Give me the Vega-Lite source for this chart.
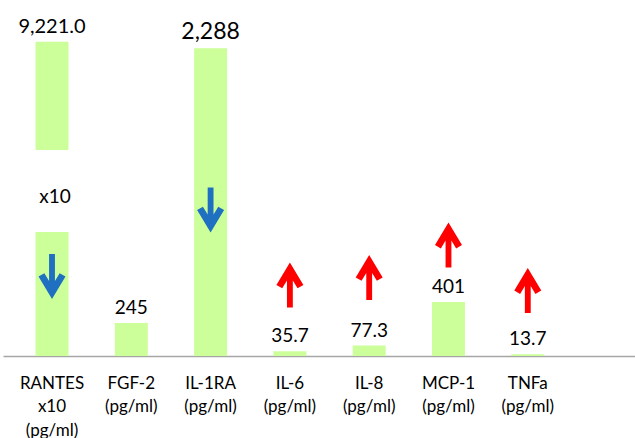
{
  "$schema": "https://vega.github.io/schema/vega-lite/v6.json",
  "width": 632,
  "height": 356,
  "autosize": {"type": "none"},
  "padding": {"left": 3, "top": 0, "right": 0, "bottom": 82},
  "background": "white",
  "config": {"view": {"stroke": null}, "font": "Lato"},
  "datasets": {
    "bars": [
      {"cat": "RANTES", "start": 0, "end": 922.1},
      {"cat": "RANTES", "start": 1532, "end": 2337},
      {"cat": "FGF-2", "start": 0, "end": 245},
      {"cat": "IL-1RA", "start": 0, "end": 2288},
      {"cat": "IL-6", "start": 0, "end": 35.7},
      {"cat": "IL-8", "start": 0, "end": 77.3},
      {"cat": "MCP-1", "start": 0, "end": 401},
      {"cat": "TNFa", "start": 0, "end": 13.7}
    ],
    "labels": [
      {"cat": "RANTES", "v": 2337, "text": "9,221.0"},
      {"cat": "FGF-2", "v": 245, "text": "245"},
      {"cat": "IL-1RA", "v": 2288, "text": "2,288"},
      {"cat": "IL-6", "v": 35.7, "text": "35.7"},
      {"cat": "IL-8", "v": 77.3, "text": "77.3"},
      {"cat": "MCP-1", "v": 401, "text": "401"},
      {"cat": "TNFa", "v": 13.7, "text": "13.7"}
    ],
    "notes": [
      {"cat": "RANTES", "v": 1182, "text": "x10"}
    ],
    "arrows": [
      {"cat": "RANTES", "v": 591, "dir": "down"},
      {"cat": "IL-1RA", "v": 1085, "dir": "down"},
      {"cat": "IL-6", "v": 528, "dir": "up"},
      {"cat": "IL-8", "v": 584, "dir": "up"},
      {"cat": "MCP-1", "v": 825, "dir": "up"},
      {"cat": "TNFa", "v": 487, "dir": "up"}
    ]
  },
  "encoding": {
    "x": {
      "field": "cat",
      "type": "nominal",
      "sort": null,
      "scale": {
        "domain": ["RANTES", "FGF-2", "IL-1RA", "IL-6", "IL-8", "MCP-1", "TNFa", "_"],
        "paddingInner": 0.584,
        "paddingOuter": 0.277,
        "align": 0.74
      },
      "axis": {
        "title": null,
        "labelAngle": 0,
        "ticks": false,
        "domain": true,
        "domainColor": "#a6a6a6",
        "domainWidth": 1.5,
        "labelFont": "Lato",
        "labelFontSize": 17,
        "labelColor": "#000000",
        "labelLineHeight": 23.5,
        "labelPadding": 19,
        "labelLimit": 0,
        "labelOverlap": false,
        "labelExpr": "datum.value == 'RANTES' ? ['RANTES', 'x10', '(pg/ml)'] : (datum.value == '_' ? '' : [datum.value, '(pg/ml)'])"
      }
    }
  },
  "layer": [
    {
      "data": {"name": "bars"},
      "mark": {"type": "bar", "color": "#ccff99"},
      "encoding": {
        "y": {"field": "start", "type": "quantitative", "scale": {"domain": [0, 2647], "nice": false, "zero": true}, "axis": null},
        "y2": {"field": "end"}
      }
    },
    {
      "data": {"name": "labels"},
      "transform": [{"filter": "datum.cat !== 'IL-1RA' && datum.cat !== 'RANTES'"}],
      "mark": {"type": "text", "fontSize": 19, "baseline": "alphabetic", "dy": -9, "color": "#000000", "font": "Lato"},
      "encoding": {
        "y": {"field": "v", "type": "quantitative"},
        "text": {"field": "text"}
      }
    },
    {
      "data": {"name": "labels"},
      "transform": [{"filter": "datum.cat === 'IL-1RA'"}],
      "mark": {"type": "text", "fontSize": 23, "baseline": "alphabetic", "dy": -9, "color": "#000000", "font": "Lato"},
      "encoding": {
        "y": {"field": "v", "type": "quantitative"},
        "text": {"field": "text"}
      }
    },
    {
      "data": {"name": "labels"},
      "transform": [{"filter": "datum.cat === 'RANTES'"}],
      "mark": {"type": "text", "fontSize": 20, "baseline": "alphabetic", "dy": -9, "color": "#000000", "font": "Lato"},
      "encoding": {
        "y": {"field": "v", "type": "quantitative"},
        "text": {"field": "text"}
      }
    },
    {
      "data": {"name": "notes"},
      "mark": {"type": "text", "fontSize": 19, "baseline": "middle", "dx": 3, "color": "#000000", "font": "Lato"},
      "encoding": {
        "y": {"field": "v", "type": "quantitative"},
        "text": {"field": "text"}
      }
    },
    {
      "data": {"name": "arrows"},
      "mark": {"type": "point", "filled": true, "opacity": 1, "size": 2025, "strokeWidth": 0},
      "encoding": {
        "y": {"field": "v", "type": "quantitative"},
        "shape": {
          "field": "dir",
          "type": "nominal",
          "scale": {
            "domain": ["up", "down"],
            "range": [
              "M0,-1L0.6,0L0.34,0.15L0.13,-0.2L0.13,1L-0.13,1L-0.13,-0.2L-0.34,0.15L-0.6,0Z",
              "M0,1L0.6,0L0.34,-0.15L0.13,0.2L0.13,-1L-0.13,-1L-0.13,0.2L-0.34,-0.15L-0.6,0Z"
            ]
          },
          "legend": null
        },
        "color": {
          "field": "dir",
          "type": "nominal",
          "scale": {"domain": ["up", "down"], "range": ["#ff0000", "#1f70c1"]},
          "legend": null
        }
      }
    }
  ]
}
